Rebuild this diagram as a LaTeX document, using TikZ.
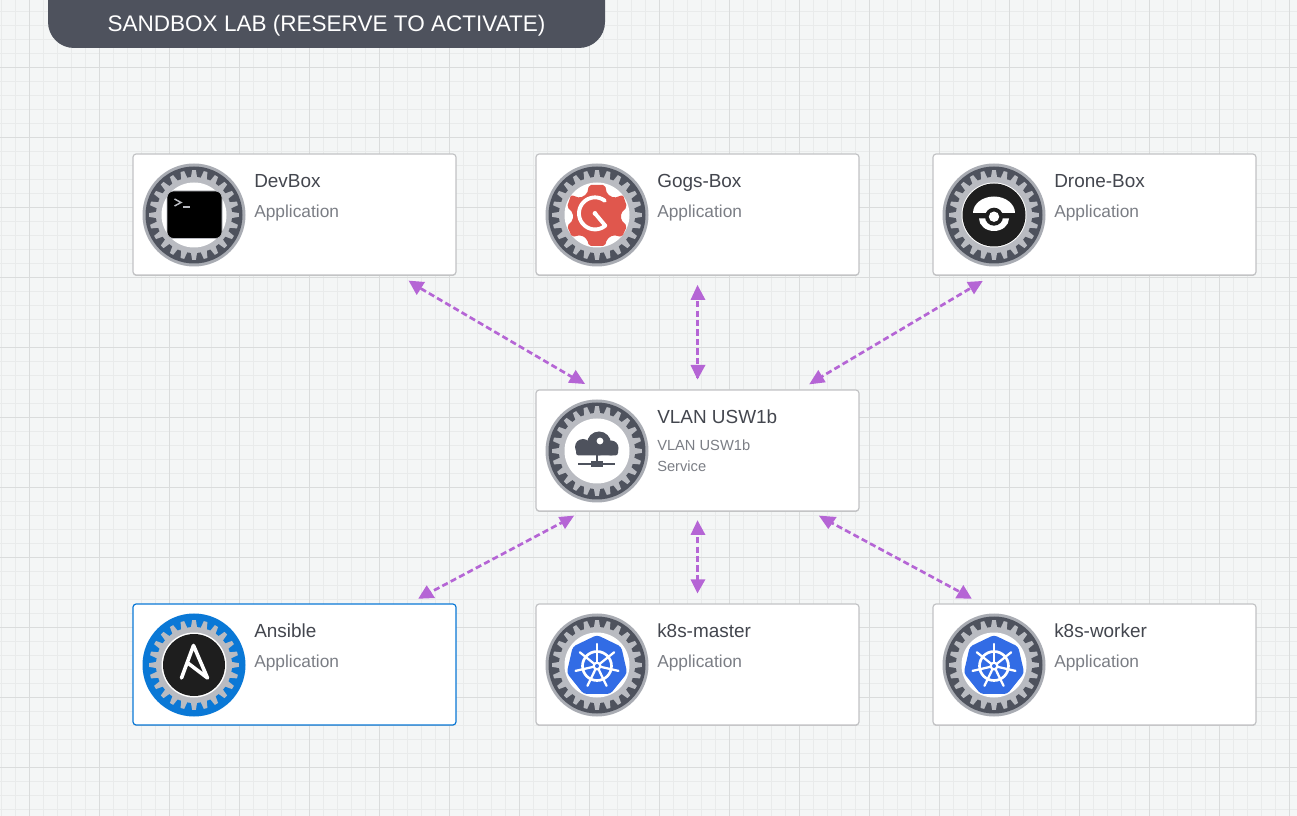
\documentclass[tikz,border=0pt]{standalone}
\usepackage{fontspec}
\usetikzlibrary{shadows}
\setmainfont{Liberation Sans}
\definecolor{bgc}{HTML}{F4F6F6}
\definecolor{gminor}{HTML}{E9EBEB}
\definecolor{gmajor}{HTML}{DADCDC}
\definecolor{slate}{HTML}{4E525D}
\definecolor{halo}{HTML}{A9ACB3}
\definecolor{toothc}{HTML}{B9BBC1}
\definecolor{selblue}{HTML}{0A78D6}
\definecolor{cardline}{HTML}{C2C3C5}
\definecolor{titlec}{HTML}{43464E}
\definecolor{subc}{HTML}{7B7E85}
\definecolor{linkc}{HTML}{B565D5}
\definecolor{redg}{HTML}{E0574D}
\definecolor{k8sblue}{HTML}{326CE5}
\definecolor{inkc}{HTML}{1E1E1E}
\tikzset{
  x=0.75pt,y=-0.75pt,
  cardbox/.style={draw=cardline,line width=0.9pt,fill=white,rounded corners=2.4pt,minimum width=242.25pt,minimum height=90.75pt,inner sep=0pt,general shadow={shadow yshift=-0.7pt,fill=black!22}},
  selbox/.style={cardbox,draw=selblue},
  titletext/.style={anchor=base west,inner sep=0pt,text=titlec,font=\fontsize{14.2}{16}\selectfont},
  subtext/.style={anchor=base west,inner sep=0pt,text=subc,font=\fontsize{13}{15}\selectfont},
  smalltext/.style={anchor=base west,inner sep=0pt,text=subc,font=\fontsize{11}{13}\selectfont},
  conn/.style={draw=linkc,line width=2pt,dash pattern=on 4.6pt off 2.5pt},
  headc/.style={fill=linkc},
}
% #1 x, #2 y, #3 ring colour, #4 halo colour
\newcommand{\gearicon}[4]{%
  \begin{scope}[shift={(#1,#2)}]
    \fill[#4] (0,0) circle[radius=51.5];
    \fill[#3] (0,0) circle[radius=48.5];
    \fill[toothc] (0,0) circle[radius=38];
    \foreach \a in {0,15,...,345}{
      \fill[toothc] (\a-5:37) -- (\a-2.4:45) -- (\a+2.4:45) -- (\a+5:37) -- cycle;
    }
    \fill[white] (0,0) circle[radius=32.5];
  \end{scope}}
% k8s icon
\newcommand{\kubeicon}[2]{%
  \begin{scope}[shift={(#1,#2)}]
    \fill[k8sblue,rounded corners=2.5pt] (-90:31) -- (-38.57:31) -- (12.86:31) -- (64.29:31) -- (115.71:31) -- (167.14:31) -- (218.57:31) -- cycle;
    \draw[white,line width=2pt] (0,0) circle[radius=14.5];
    \foreach \a in {-90,-38.57,12.86,64.29,115.71,167.14,218.57}{
      \draw[white,line width=1.7pt,line cap=round] (\a:3) -- (\a:22);
    }
    \fill[white] (0,0) circle[radius=4.5];
    \fill[k8sblue] (0,0) circle[radius=2];
  \end{scope}}
\begin{document}
\begin{tikzpicture}
\useasboundingbox (0,0) rectangle (1297,816);
\begin{scope}
\clip (0,0) rectangle (1297,816);
\fill[bgc] (0,0) rectangle (1297,816);
% grid
\foreach \i in {0,...,93}{
  \draw[gminor,line width=1.4pt] ({1.5+14*\i},0) -- ({1.5+14*\i},816);
}
\foreach \i in {0,...,58}{
  \draw[gminor,line width=1.4pt] (0,{11.5+14*\i}) -- (1297,{11.5+14*\i});
}
\foreach \i in {0,...,18}{
  \draw[gmajor,line width=0.75pt] ({29.5+70*\i},0) -- ({29.5+70*\i},816);
}
\foreach \i in {0,...,11}{
  \draw[gmajor,line width=0.75pt] (0,{-2.5+70*\i}) -- (1297,{-2.5+70*\i});
}
% header
\fill[slate,rounded corners=19.5pt] (48,-60) rectangle (605,48);
\end{scope}
\node[anchor=base,inner sep=0pt,text=white,font=\fontsize{16.9}{19}\selectfont] (hdr) at (326.5,32) {SANDBOX LAB (RESERVE TO ACTIVATE)};
% cards
\node[cardbox] (devbox) at (294.5,214.5) {};
\node[cardbox] (gogs) at (697.5,214.5) {};
\node[cardbox] (drone) at (1094.5,214.5) {};
\node[cardbox] (vlan) at (697.5,450.5) {};
\node[selbox] (ansible) at (294.5,664.5) {};
\node[cardbox] (master) at (697.5,664.5) {};
\node[cardbox] (worker) at (1094.5,664.5) {};
% labels
\node[titletext] (t1) at (254,188) {DevBox};
\node[subtext] (s1) at (254,217.5) {Application};
\node[titletext] (t2) at (657,188) {Gogs-Box};
\node[subtext] (s2) at (657,217.5) {Application};
\node[titletext] (t3) at (1054,188) {Drone-Box};
\node[subtext] (s3) at (1054,217.5) {Application};
\node[titletext] (t4) at (657,424) {VLAN USW1b};
\node[smalltext] (s4) at (657,451) {VLAN USW1b};
\node[smalltext] (s4b) at (657,472) {Service};
\node[titletext] (t5) at (254,638) {Ansible};
\node[subtext] (s5) at (254,667.5) {Application};
\node[titletext] (t6) at (657,638) {k8s-master};
\node[subtext] (s6) at (657,667.5) {Application};
\node[titletext] (t7) at (1054,638) {k8s-worker};
\node[subtext] (s7) at (1054,667.5) {Application};
% gears
\gearicon{194}{215}{slate}{halo}
\gearicon{597}{215}{slate}{halo}
\gearicon{994}{215}{slate}{halo}
\gearicon{597}{451}{slate}{halo}
\gearicon{194}{665}{selblue}{selblue}
\gearicon{597}{665}{slate}{halo}
\gearicon{994}{665}{slate}{halo}
% devbox icon
\fill[black,draw=toothc,line width=0.5pt,rounded corners=5pt] (167,191) rectangle (222,238.5);
\draw[toothc,line width=1.1pt] (174.5,199) -- (181,202.5) -- (174.5,206);
\draw[toothc,line width=1.1pt] (183,207) -- (190,207);
% gogs icon
\begin{scope}[shift={(597,215)}]
  \fill[redg,rounded corners=1.5pt]
    (-8,-30) -- (8,-30) -- (10,-21) -- (17,-17) -- (26,-20) -- (30,-8) -- (24,-2) -- (24,5) -- (30,11) -- (25,22) -- (16,20) -- (10,24) -- (8,31) -- (-8,31) -- (-10,24) -- (-16,20) -- (-25,22) -- (-30,11) -- (-24,5) -- (-24,-2) -- (-30,-8) -- (-26,-20) -- (-17,-17) -- (-10,-21) -- cycle;
  \draw[white,line width=2.9pt,line cap=round,line join=round] plot[domain=-52:-310,samples=50] ({-2+16*cos(\x)},{-1.6+16*sin(\x)}) -- (-2,-1.6);
  \fill[white] (-2,-1.6) circle[radius=2.4];
\end{scope}
% drone icon
\begin{scope}[shift={(994,215)}]
  \fill[inkc] (0,0) circle[radius=31.5];
  \fill[white] (-21,-2) .. controls (-21,-11.1) and (-11.6,-18.5) .. (0,-18.5) .. controls (11.6,-18.5) and (21,-11.1) .. (21,-2) -- cycle;
  \fill[white] (-15,3.5) .. controls (-15,10.4) and (-8.3,16) .. (0,16) .. controls (8.3,16) and (15,10.4) .. (15,3.5) -- cycle;
  \fill[inkc] (0,1.7) circle[radius=9];
  \fill[white] (0,1.7) circle[radius=5.2];
\end{scope}
% cloud icon
\fill[slate] (583,447) circle[radius=8];
\fill[slate] (599,443.5) circle[radius=12];
\fill[slate] (611,448) circle[radius=7.5];
\fill[slate,rounded corners=2pt] (576,446.5) rectangle (618,455.5);
\fill[white] (600,441) circle[radius=3.4];
\draw[slate,line width=1.9pt] (597,455) -- (597,462);
\draw[slate,line width=1.5pt] (578,464) -- (615,464);
\fill[slate] (591,461) rectangle (603,467);
% ansible icon
\fill[inkc] (194,665) circle[radius=31];
\draw[white,line width=2.7pt,line join=round,line cap=round] (181.5,678) -- (193.5,645.5) -- (207.5,678) -- (188.5,663.5);
% k8s icons
\kubeicon{597}{666}
\kubeicon{994}{666}
% connectors
\draw[conn,shorten <=12pt,shorten >=15pt] (devbox) -- (vlan);
\draw[conn,shorten <=12pt,shorten >=9pt] (gogs) -- (vlan);
\draw[conn,shorten <=12pt,shorten >=15pt] (drone) -- (vlan);
\draw[conn,shorten <=15pt,shorten >=14pt] (vlan) -- (ansible);
\draw[conn,shorten <=12pt,shorten >=9pt] (vlan) -- (master);
\draw[conn,shorten <=15pt,shorten >=14pt] (vlan) -- (worker);
% arrowheads
\fill[headc] (408.7,280.7) -- (425,282) -- (416.7,295) -- cycle;
\fill[headc] (575.7,370) -- (568,382.7) -- (585,384) -- cycle;
\fill[headc] (697.5,285) -- (690.5,300) -- (705.5,300) -- cycle;
\fill[headc] (690.5,365) -- (705.5,365) -- (697.5,379.5) -- cycle;
\fill[headc] (982.7,281) -- (966.7,282) -- (974,294.3) -- cycle;
\fill[headc] (818.3,370) -- (809.3,384.3) -- (825.7,382.3) -- cycle;
\fill[headc] (574,515.7) -- (558.3,517) -- (565,529) -- cycle;
\fill[headc] (426.7,585.3) -- (418.3,598.7) -- (435,598) -- cycle;
\fill[headc] (697.5,520.3) -- (690.5,535) -- (705.5,535) -- cycle;
\fill[headc] (690.5,579.3) -- (705.5,579.3) -- (697.5,593.3) -- cycle;
\fill[headc] (819,515.7) -- (836.7,517) -- (828.3,529) -- cycle;
\fill[headc] (963.3,585) -- (955.3,598.3) -- (971.7,598.7) -- cycle;
\end{tikzpicture}
\end{document}
